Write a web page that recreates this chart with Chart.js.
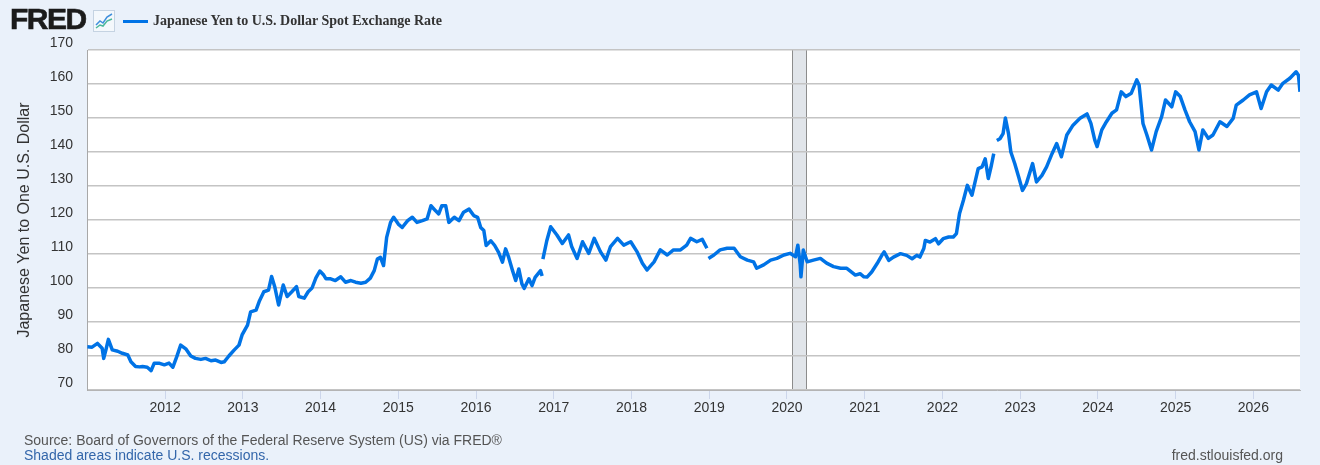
<!DOCTYPE html>
<html>
<head>
<meta charset="utf-8">
<title>Japanese Yen to U.S. Dollar Spot Exchange Rate</title>
<script src="https://cdn.jsdelivr.net/npm/chart.js@4.4.1/dist/chart.umd.min.js"></script>
<style>
  html, body { margin: 0; padding: 0; }
  body { width: 1320px; height: 465px; background: #eaf1fa; position: relative; overflow: hidden;
         font-family: "Liberation Sans", Arial, sans-serif; }
  #wrap { position: absolute; left: 0; top: 0; width: 1320px; height: 465px; }
  .logo { position: absolute; left: 10px; top: 2px; font: 900 30px "Liberation Sans", Arial, sans-serif;
          letter-spacing: -1.5px; color: #1b1b1b; -webkit-text-stroke: 0.6px #1b1b1b; }
  .icon { position: absolute; left: 93px; top: 10px; }
  .legline { position: absolute; left: 123px; top: 20px; width: 25px; height: 3px; background: #0073e6; }
  .title { position: absolute; left: 153px; top: 13px; font: bold 14px "Liberation Serif", "Times New Roman", serif; color: #333; }
  .src { position: absolute; left: 24px; top: 432px; font-size: 14px; color: #555; }
  .rec { position: absolute; left: 24px; top: 447px; font-size: 14px; color: #3366aa; }
  .url { position: absolute; right: 37px; top: 447px; font-size: 14px; color: #555; }
</style>
</head>
<body>
<div id="wrap"><canvas id="fredChart" width="1320" height="465"></canvas></div>
<div class="logo">FRED</div>
<svg class="icon" width="22" height="22" viewBox="0 0 22 22">
  <rect x="0.5" y="0.5" width="21" height="21" fill="#f4f8fc" stroke="#c5d3e2"/>
  <polyline points="3,15 7,11 10,13 14,7 19,4" fill="none" stroke="#3f8fdc" stroke-width="1.5"/>
  <polyline points="3,18 7,15 10,16 14,11 19,9" fill="none" stroke="#4bb89a" stroke-width="1.5"/>
</svg>
<div class="legline"></div>
<div class="title">Japanese Yen to U.S. Dollar Spot Exchange Rate</div>
<div class="src">Source: Board of Governors of the Federal Reserve System (US) via FRED®</div>
<div class="rec">Shaded areas indicate U.S. recessions.</div>
<div class="url">fred.stlouisfed.org</div>

<script>
// dates as decimal years
const when = [
  2011.00, 2011.06, 2011.13, 2011.19, 2011.21, 2011.24, 2011.27, 2011.32, 2011.39, 2011.45,
  2011.52, 2011.56, 2011.62, 2011.67, 2011.71, 2011.77, 2011.82, 2011.86, 2011.92, 2011.99,
  2012.05, 2012.10, 2012.15, 2012.20, 2012.27, 2012.33, 2012.39, 2012.46, 2012.52, 2012.59,
  2012.65, 2012.72, 2012.76, 2012.82, 2012.89, 2012.95, 2012.99,
  2013.06, 2013.10, 2013.17, 2013.21, 2013.27, 2013.33, 2013.37, 2013.41, 2013.46, 2013.52,
  2013.57, 2013.63, 2013.69, 2013.72, 2013.79, 2013.84, 2013.89, 2013.94, 2013.99,
  2014.04, 2014.07, 2014.13, 2014.19, 2014.26, 2014.32, 2014.39, 2014.45, 2014.52, 2014.58,
  2014.64, 2014.69, 2014.73, 2014.77, 2014.81, 2014.85, 2014.90, 2014.94,
  2015.00, 2015.05, 2015.12, 2015.18, 2015.24, 2015.31, 2015.37, 2015.42, 2015.48, 2015.52,
  2015.56, 2015.61, 2015.65, 2015.72, 2015.78, 2015.84, 2015.91, 2015.97,
  2016.02, 2016.06, 2016.10, 2016.13, 2016.19, 2016.24, 2016.29, 2016.34, 2016.38, 2016.42,
  2016.47, 2016.51, 2016.55, 2016.59, 2016.62, 2016.68, 2016.72, 2016.76, 2016.83, 2016.85,
  2016.855, 2016.86, 2016.91, 2016.96,
  2017.04, 2017.11, 2017.19, 2017.23, 2017.30, 2017.37, 2017.45, 2017.52, 2017.60, 2017.67,
  2017.73, 2017.82, 2017.90, 2017.99,
  2018.07, 2018.14, 2018.20, 2018.29, 2018.37, 2018.46, 2018.54, 2018.63, 2018.71, 2018.76,
  2018.84, 2018.91, 2018.97, 2018.98, 2018.99,
  2019.06, 2019.14, 2019.23, 2019.32, 2019.40, 2019.49, 2019.57, 2019.61, 2019.70, 2019.79,
  2019.87, 2019.96,
  2020.04, 2020.11, 2020.14, 2020.17, 2020.18, 2020.21, 2020.26, 2020.34, 2020.43, 2020.51,
  2020.60, 2020.69, 2020.77, 2020.88, 2020.94, 2020.99,
  2021.03, 2021.09, 2021.16, 2021.22, 2021.25, 2021.31, 2021.37, 2021.46, 2021.54, 2021.61,
  2021.67, 2021.71, 2021.76, 2021.78, 2021.84, 2021.91, 2021.95,
  2022.01, 2022.08, 2022.14, 2022.18, 2022.22, 2022.27, 2022.32, 2022.38, 2022.42, 2022.46,
  2022.51, 2022.55, 2022.59, 2022.63, 2022.66, 2022.68, 2022.70, 2022.74, 2022.78, 2022.81,
  2022.85, 2022.88, 2022.93, 2022.98,
  2023.03, 2023.08, 2023.16, 2023.21, 2023.28, 2023.34, 2023.41, 2023.47, 2023.53, 2023.60,
  2023.68, 2023.77, 2023.86, 2023.91, 2023.96, 2023.99,
  2024.05, 2024.11, 2024.18, 2024.24, 2024.30, 2024.36, 2024.43, 2024.50, 2024.53, 2024.58,
  2024.63, 2024.69, 2024.75, 2024.82, 2024.87, 2024.95,
  2025.00, 2025.06, 2025.12, 2025.18, 2025.25, 2025.30, 2025.35, 2025.42, 2025.48, 2025.57,
  2025.66, 2025.74, 2025.78, 2025.87, 2025.95,
  2026.04, 2026.10, 2026.17, 2026.23, 2026.32, 2026.38, 2026.47, 2026.55, 2026.58, 2026.60
];

// yen per dollar at those dates (null = gap in the series)
const yen = [
  82.7, 82.6, 83.7, 82.3, 79.3, 82.0, 84.9, 81.8, 81.4, 80.8,
  80.3, 78.3, 76.9, 76.8, 76.9, 76.7, 75.7, 77.9, 77.9, 77.4,
  77.9, 76.7, 79.8, 83.2, 82.0, 80.0, 79.3, 79.0, 79.3, 78.6,
  78.8, 78.1, 78.3, 80.0, 81.8, 83.2, 86.2,
  89.1, 93.0, 93.5, 96.0, 98.9, 99.4, 103.4, 100.4, 95.0, 100.9,
  97.5, 98.9, 100.4, 97.5, 97.0, 98.9, 100.0, 103.0, 105.0,
  103.8, 102.7, 102.7, 102.2, 103.3, 101.7, 102.2, 101.7, 101.4, 101.7,
  102.9, 105.1, 108.5, 109.0, 106.6, 114.9, 119.3, 120.8,
  118.8, 117.8, 119.8, 120.8, 119.3, 119.8, 120.3, 124.2, 122.7, 121.8,
  124.2, 124.2, 119.3, 120.8, 119.8, 122.3, 123.2, 121.3,
  120.8, 117.8, 116.9, 112.5, 113.9, 112.5, 110.5, 107.6, 111.5, 109.0,
  105.1, 102.2, 105.6, 101.2, 99.9, 102.7, 100.7, 103.1, 105.1, 103.5,
  null, 108.5, 113.9, 118.0,
  115.6, 113.1, 115.6, 112.2, 108.7, 113.6, 110.2, 114.6, 110.7, 108.2,
  112.2, 114.6, 112.6, 113.6,
  110.7, 107.3, 105.3, 107.7, 111.2, 109.7, 111.2, 111.2, 112.6, 114.6,
  113.6, 114.3, 111.7, null, 108.7,
  109.7, 111.2, 111.7, 111.7, 109.2, 108.2, 107.7, 105.8, 106.8, 108.2,
  108.7, 109.7,
  110.2, 109.2, 112.6, 107.0, 103.3, 111.2, 107.7, 108.2, 108.7, 107.3,
  106.3, 105.8, 105.8, 103.8, 104.2, 103.3,
  103.2, 104.7, 107.2, 109.6, 110.6, 108.1, 109.1, 110.1, 109.6, 108.6,
  109.6, 109.1, 111.6, 114.0, 113.5, 114.5, 113.0,
  114.5, 115.0, 115.0, 116.0, 121.9, 125.8, 130.2, 127.3, 131.2, 135.1,
  135.6, 138.0, 132.2, 136.1, 139.5, null, 143.4, 143.9, 145.4, 150.0,
  145.4, 140.0, 136.6, 132.7,
  128.7, 130.7, 136.6, 131.2, 133.1, 135.6, 139.5, 142.5, 138.6, 145.0,
  147.9, 149.9, 151.2, 148.4, 143.5, 141.6,
  146.5, 148.9, 151.4, 152.4, 157.7, 156.3, 157.3, 161.2, 159.7, 148.4,
  145.0, 140.6, 146.0, 150.4, 155.3, 153.3,
  157.7, 156.3, 152.4, 148.9, 146.0, 140.6, 146.5, 144.0, 145.0, 148.9,
  147.5, 149.9, 153.8, 155.3, 156.8,
  157.7, 152.8, 157.7, 159.7, 158.2, 160.2, 161.7, 163.6, 162.6, 157.7
];

const yearTicks = [2012, 2013, 2014, 2015, 2016, 2017, 2018, 2019, 2020, 2021, 2022, 2023, 2024, 2025, 2026];
const recessionStart = [2020.07];
const recessionEnd = [2020.24];
const yTitle = "Japanese Yen to One U.S. Dollar";

const points = when.map((t, i) => ({ x: t, y: yen[i] }));
const tickFont = { family: '"Liberation Sans", Arial, sans-serif', size: 14 };

// white plot area + shaded recession bars, drawn under grid and line
const recessionBands = {
    id: "recessionBands",
    beforeDraw(chart) {
        const { ctx, chartArea: a, scales: { x } } = chart;
        ctx.save();
        ctx.fillStyle = "#ffffff";
        ctx.fillRect(a.left, a.top, a.right - a.left, a.bottom - a.top);
        recessionStart.forEach((s, i) => {
            const x0 = Math.round(x.getPixelForValue(s)) + 0.5;
            const x1 = Math.round(x.getPixelForValue(recessionEnd[i])) + 0.5;
            ctx.fillStyle = "#e1e5ea";
            ctx.fillRect(x0, a.top, x1 - x0, a.bottom - a.top);
            ctx.strokeStyle = "#8c8c8c";
            ctx.lineWidth = 1;
            ctx.beginPath();
            ctx.moveTo(x0, a.top); ctx.lineTo(x0, a.bottom);
            ctx.moveTo(x1, a.top); ctx.lineTo(x1, a.bottom);
            ctx.stroke();
        });
        ctx.restore();
    },
};

const ctx = document.getElementById("fredChart").getContext("2d");
const fredChart = new Chart(ctx, {
    type: "line",
    data: {
        datasets: [
            {
                label: "Japanese Yen to U.S. Dollar Spot Exchange Rate",
                data: points,
                borderColor: "#0073e6",
                borderWidth: 3.5,
                pointRadius: 0,
                tension: 0,
                spanGaps: false,
                borderJoinStyle: "round",
            },
        ],
    },
    options: {
        responsive: false,
        animation: false,
        layout: { padding: { left: 0, right: 20, top: 50, bottom: 0 } },
        plugins: { legend: { display: false }, tooltip: { enabled: false } },
        scales: {
            x: {
                type: "linear",
                min: 2010.995,
                max: 2026.6,
                afterBuildTicks: (s) => { s.ticks = yearTicks.map((v) => ({ value: v })); },
                afterFit: (s) => { s.height = 75; },
                grid: { drawOnChartArea: false, color: "#ccd6eb", tickLength: 9 },
                border: { color: "#b4b4b4" },
                ticks: {
                    callback: (v) => String(v),
                    color: "#333",
                    font: tickFont,
                    padding: 1,
                    maxRotation: 0,
                    autoSkip: false,
                },
            },
            y: {
                min: 70,
                max: 170,
                afterFit: (s) => { s.width = 87; },
                grid: { color: "#c4c4c4", lineWidth: 1.6, drawTicks: false },
                border: { color: "#a8a8a8" },
                ticks: { stepSize: 10, color: "#333", font: tickFont, padding: 14, labelOffset: -7 },
                title: {
                    display: true,
                    text: yTitle,
                    color: "#333",
                    font: { family: '"Liberation Sans", Arial, sans-serif', size: 16 },
                    padding: { top: 15, bottom: 0 },
                },
            },
        },
    },
    plugins: [recessionBands],
});
</script>
</body>
</html>
